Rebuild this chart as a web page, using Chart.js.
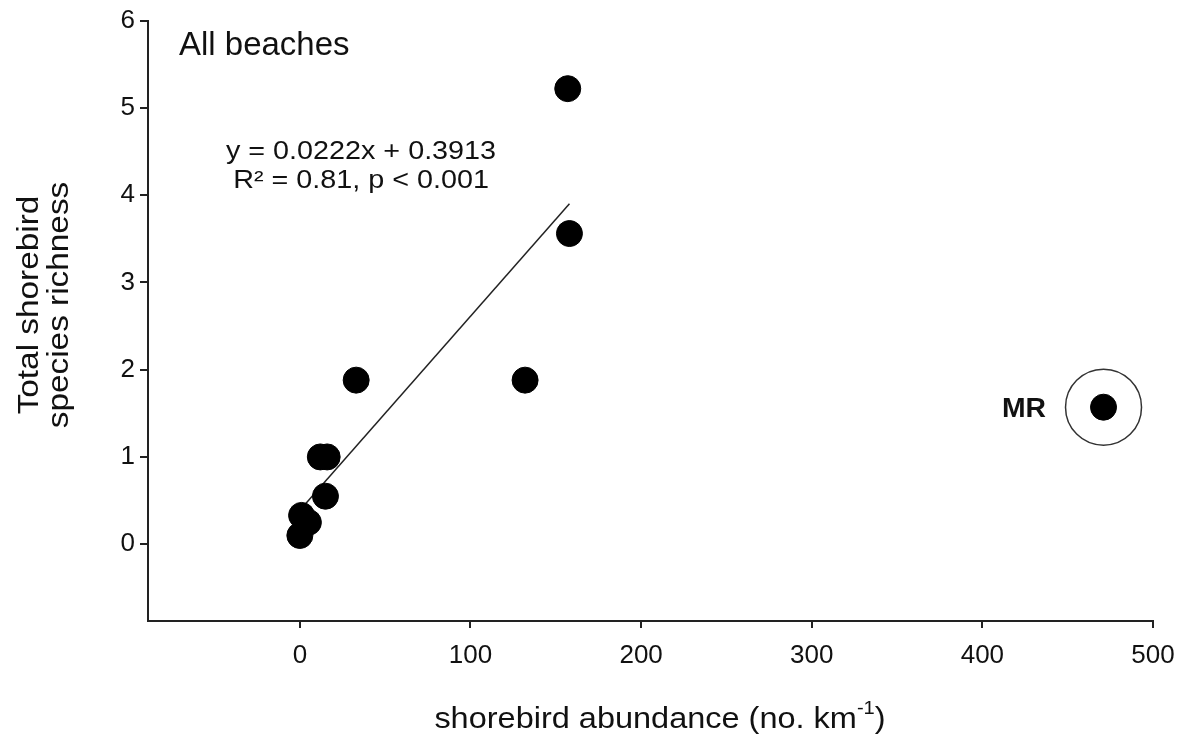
<!DOCTYPE html>
<html>
<head>
<meta charset="utf-8">
<script src="https://cdn.jsdelivr.net/npm/chart.js@4.4.1/dist/chart.umd.min.js"></script>
<style>
  html, body { margin: 0; padding: 0; background: #fff; }
  #wrap { width: 1182px; height: 745px; position: relative; }
</style>
</head>
<body>
<div id="wrap"><canvas id="chart"></canvas></div>
<script>
// shorebird abundance (no. km-1) vs species richness, all beaches
var abundance = [157, 158, 132, 33, 12, 16, 15, 1, 5, 0];
var richness  = [5.22, 3.56, 1.88, 1.88, 1.0, 1.0, 0.55, 0.33, 0.25, 0.1];

// outlier beach MR
var mrAbundance = [471];
var mrRichness  = [1.57];

// fitted line end points (y = 0.0222x + 0.3913)
var fitX = [0, 158];
var fitY = [0.39, 3.90];

var xTicks = [0, 100, 200, 300, 400, 500];
var yTicks = [0, 1, 2, 3, 4, 5, 6];

function pts(xs, ys) {
  return xs.map(function (x, i) { return { x: x, y: ys[i] }; });
}

var FONT = '"Liberation Sans", Arial, sans-serif';
var INK = '#222';

// draw text stretched horizontally by sx
function stretched(c, txt, x, y, sx, align) {
  c.save();
  c.translate(x, y);
  c.scale(sx, 1);
  c.textAlign = align;
  c.fillText(txt, 0, 0);
  c.restore();
}

var textPlugin = {
  id: 'texts',
  afterDraw: function (chart) {
    var c = chart.ctx;
    c.save();
    c.fillStyle = '#111';
    c.textBaseline = 'alphabetic';

    c.font = '34px ' + FONT;
    stretched(c, 'All beaches', 179, 55, 0.97, 'left');

    c.font = '25px ' + FONT;
    stretched(c, 'y = 0.0222x + 0.3913', 361, 159, 1.15, 'center');
    stretched(c, 'R\u00B2 = 0.81, p < 0.001', 361, 188, 1.15, 'center');

    c.font = 'bold 27px ' + FONT;
    stretched(c, 'MR', 1046, 417, 1.05, 'right');

    // y title, two lines, rotated
    c.save();
    c.translate(30, 305);
    c.rotate(-Math.PI / 2);
    c.font = '29px ' + FONT;
    c.scale(1.15, 1);
    c.textAlign = 'center';
    c.textBaseline = 'middle';
    c.fillText('Total shorebird', 0, 0);
    c.fillText('species richness', 0, 30);
    c.restore();

    // x title with superscript
    var a = 'shorebird abundance (no. km', sup = '-1', b = ')';
    var sx = 1.12;
    c.font = '29px ' + FONT;
    var wa = c.measureText(a).width, wb = c.measureText(b).width;
    c.font = '18px ' + FONT;
    var ws = c.measureText(sup).width;
    c.save();
    c.translate(660 - sx * (wa + ws + wb) / 2, 728);
    c.scale(sx, 1);
    c.textAlign = 'left';
    c.font = '29px ' + FONT;
    c.fillText(a, 0, 0);
    c.font = '18px ' + FONT;
    c.fillText(sup, wa, -14);
    c.font = '29px ' + FONT;
    c.fillText(b, wa + ws, 0);
    c.restore();
    c.restore();
  }
};

new Chart(document.getElementById('chart'), {
  type: 'scatter',
  data: {
    datasets: [
      {
        data: pts(abundance, richness),
        backgroundColor: '#000', borderColor: '#000',
        pointRadius: 13, pointHoverRadius: 13, order: 1
      },
      {
        data: pts(mrAbundance, mrRichness),
        backgroundColor: '#000', borderColor: '#000',
        pointRadius: 13, pointHoverRadius: 13, order: 1
      },
      {
        data: pts(mrAbundance, mrRichness),
        backgroundColor: 'rgba(0,0,0,0)', borderColor: '#333',
        borderWidth: 1.5, pointRadius: 38, pointHoverRadius: 38, order: 1
      },
      {
        type: 'line',
        data: pts(fitX, fitY),
        borderColor: '#222', borderWidth: 1.5,
        pointRadius: 0, fill: false, order: 2
      }
    ]
  },
  options: {
    responsive: true,
    maintainAspectRatio: false,
    animation: false,
    layout: { autoPadding: false, padding: { left: 0, right: 29, top: 19, bottom: 0 } },
    plugins: { legend: { display: false }, tooltip: { enabled: false } },
    scales: {
      x: {
        type: 'linear', min: -89, max: 500,
        afterBuildTicks: function (s) { s.ticks = xTicks.map(function (v) { return { value: v }; }); },
        afterFit: function (s) { s.height = 124; s.paddingRight = 0; s.paddingLeft = 0; },
        border: { display: true, color: INK, width: 2 },
        grid: { drawOnChartArea: false, drawTicks: true, tickLength: 7, color: INK, lineWidth: 2 },
        ticks: { color: '#111', font: { family: FONT, size: 26 }, padding: 12, maxRotation: 0 }
      },
      y: {
        type: 'linear', min: -0.88, max: 6,
        afterBuildTicks: function (s) { s.ticks = yTicks.map(function (v) { return { value: v }; }); },
        afterFit: function (s) { s.width = 148; },
        border: { display: true, color: INK, width: 2 },
        grid: { drawOnChartArea: false, drawTicks: true, tickLength: 8, color: INK, lineWidth: 2 },
        ticks: { color: '#111', font: { family: FONT, size: 26 }, padding: 5 }
      }
    }
  },
  plugins: [textPlugin]
});
</script>
</body>
</html>
